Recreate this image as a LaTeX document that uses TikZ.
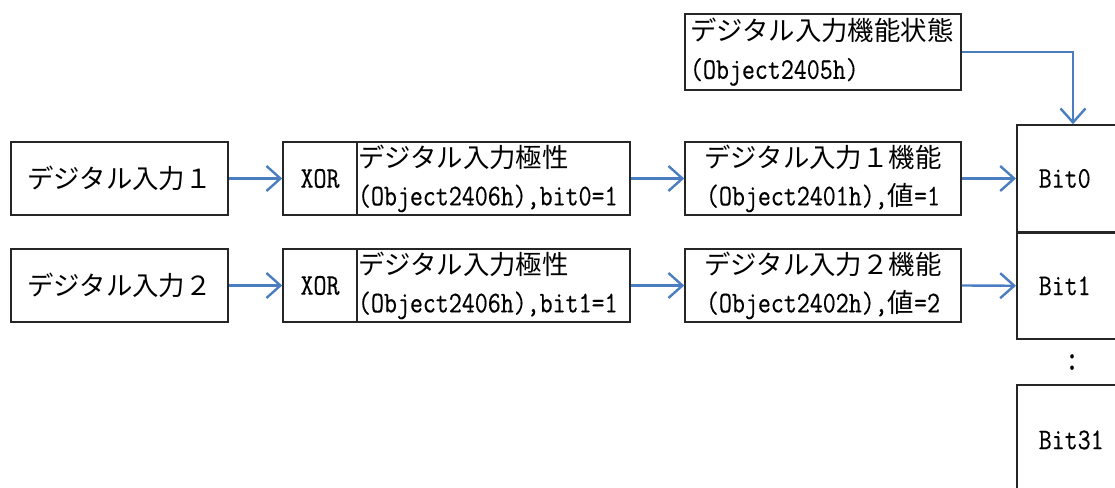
\documentclass[tikz,border=0pt]{standalone}
\usepackage{fontspec}
\usetikzlibrary{arrows.meta}
\newfontfamily\jpfont{Noto Sans CJK JP}
\newfontfamily\latfont[FakeStretch=0.84,FakeBold=0.4]{Latin Modern Mono}
\newcommand\JP[1]{{\jpfont #1}}
\newcommand\LT[1]{{\latfont\fontsize{30}{38}\selectfont #1}}
\definecolor{arrowblue}{RGB}{74,126,193}
\tikzset{
  box/.style={draw=black!85, line width=1.5pt, inner sep=0pt, minimum height=73pt,
    font=\fontsize{26.4}{38}\selectfont},
  arr/.style={draw=arrowblue, line width=2.4pt, -{Straight Barb[length=14pt,width=25pt,line width=2.4pt]}},
}
\begin{document}
\begin{tikzpicture}[x=1pt,y=-1pt]
\useasboundingbox (0,0) rectangle (1115,487);
\clip (0,0) rectangle (1115,487);
% top box
\node[box, minimum height=76pt, text width=266pt, inner xsep=5pt, align=left] (top) at (823,52)
  {\JP{デジタル入力機能状態}\\\LT{(Object2405h)}};
% row 1
\node[box, minimum width=217pt] (in1) at (119.5,178.5) {\JP{デジタル入力１}};
\node[box, minimum width=74pt] (xor1) at (320,178.5) {\LT{XOR}};
\node[box, text width=271pt, inner xsep=1pt, align=left] (pol1) at (493.5,178.5)
  {\JP{デジタル入力極性}\\\LT{(Object2406h),bit0=1}};
\node[box, text width=266pt, inner xsep=5pt, align=center] (fn1) at (823,178.5)
  {\JP{デジタル入力１機能}\\\LT{(Object2401h),}\JP{値}\LT{=1}};
\node[box, minimum height=107pt, text width=92pt, inner xsep=22pt, align=left, anchor=west] (bit0) at (1016,178.5)
  {\LT{Bit0}};
% row 2
\node[box, minimum width=217pt] (in2) at (119.5,285.5) {\JP{デジタル入力２}};
\node[box, minimum width=74pt] (xor2) at (320,285.5) {\LT{XOR}};
\node[box, text width=271pt, inner xsep=1pt, align=left] (pol2) at (493.5,285.5)
  {\JP{デジタル入力極性}\\\LT{(Object2406h),bit1=1}};
\node[box, text width=266pt, inner xsep=5pt, align=center] (fn2) at (823,285.5)
  {\JP{デジタル入力２機能}\\\LT{(Object2402h),}\JP{値}\LT{=2}};
\node[box, minimum height=106pt, text width=92pt, inner xsep=22pt, align=left, anchor=north west] (bit1) at (1016,232)
  {\LT{Bit1}};
% dots and last bit
\node[inner sep=0pt] (dots) at (1072,362) {\latfont\fontsize{36}{38}\selectfont :};
\node[box, minimum height=110pt, text width=92pt, inner xsep=22pt, align=left, anchor=west] (bit31) at (1016,440)
  {\LT{Bit31}};
% arrows
\draw[arr] (in1.east) -- (xor1.west);
\draw[arr] (pol1.east) -- (fn1.west);
\draw[arr] (fn1.east) -- (bit0.west);
\draw[arr] (in2.east) -- (xor2.west);
\draw[arr] (pol2.east) -- (fn2.west);
\draw[arr] (fn2.east) -- (bit1.west);
\draw[arr] (top.east) -| ([xshift=57pt]bit0.north west);
\end{tikzpicture}
\end{document}
